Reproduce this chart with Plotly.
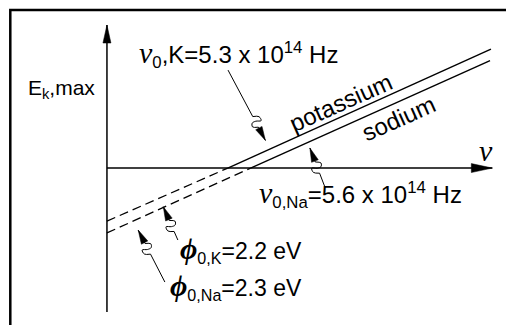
import math
import plotly.graph_objects as go

# Schematic photoelectric plot: E_k,max against frequency nu
# nu in 10^14 Hz, energy in eV (positions as drawn, the sketch is not to scale)
W, H = 506, 325
X_RANGE = [-4.69, 17.5]
Y_RANGE = [-6.65, 7.12]

nu_axis = [0, 16.9]
e_axis = [-6.1, 6.06]

k_nu = [0, 5.3, 16.84]
k_e = [-2.25, 0, 5.04]
na_nu = [0, 6.3, 16.8]
na_e = [-2.75, 0, 4.55]

# label pointers (tail near the text, tip near the line)
ptr_tail_nu = [5.31, 9.56, 3.11, 2.54]
ptr_tail_e = [4.15, -0.81, -3.05, -4.83]
ptr_tip_nu = [6.95, 8.90, 2.47, 1.37]
ptr_tip_e = [1.17, 0.85, -1.64, -2.63]

PX = W / (X_RANGE[1] - X_RANGE[0])
PY = H / (Y_RANGE[1] - Y_RANGE[0])

FONT = "Liberation Sans, Arial, sans-serif"
SERIF = "Liberation Serif, Times New Roman, serif"
INK = "black"

fig = go.Figure()


def add_line(xs, ys, width=1.4, dash=None, shape="linear"):
    fig.add_trace(go.Scatter(x=xs, y=ys, mode="lines", hoverinfo="skip",
                             line=dict(color=INK, width=width, dash=dash, shape=shape)))


def unit(x0, y0, x1, y1):
    dx, dy = (x1 - x0) * PX, (y1 - y0) * PY
    n = math.hypot(dx, dy)
    return dx / n, dy / n, n


def add_head(tx, ty, fx, fy, length, half):
    dx, dy, _ = unit(fx, fy, tx, ty)
    bx, by = tx * PX - dx * length, ty * PY - dy * length
    xs = [tx, (bx - dy * half) / PX, (bx + dy * half) / PX, tx]
    ys = [ty, (by + dx * half) / PY, (by - dx * half) / PY, ty]
    fig.add_trace(go.Scatter(x=xs, y=ys, mode="lines", fill="toself", fillcolor=INK,
                             hoverinfo="skip", line=dict(color=INK, width=0.5)))


# frame
fig.add_shape(type="rect", xref="paper", yref="paper",
              x0=10.3 / W, x1=1.02, y0=-0.02, y1=1 - 10 / H,
              line=dict(color=INK, width=2.5))

# axes
add_line([nu_axis[0], nu_axis[1]], [0, 0], width=1.5)
add_line([0, 0], [e_axis[0], e_axis[1]], width=1.5)
add_head(nu_axis[1], 0, nu_axis[0], 0, 21, 4.5)
add_head(0, e_axis[1], 0, e_axis[0], 18, 4)

# graph lines: dashed below the axis, solid above
for nus, es in ((k_nu, k_e), (na_nu, na_e)):
    add_line(nus[:2], es[:2], width=1.3, dash="9px,5px")
    add_line(nus[1:], es[1:], width=1.4)

# pointers: straight run, a small squiggle, then the arrow head
HEAD_LEN, HEAD_HALF = 14, 3.6
SQ = [(0, 0), (3, 5.5), (7.5, 5.5), (5.5, 0.5), (5.5, -3.5), (9, -5), (12, 0)]
SQ_LEN = SQ[-1][0]
for tx0, ty0, px0, py0 in zip(ptr_tail_nu, ptr_tail_e, ptr_tip_nu, ptr_tip_e):
    dx, dy, n = unit(tx0, ty0, px0, py0)
    s0 = n - HEAD_LEN - SQ_LEN - 1
    sx, sy = tx0 * PX + dx * s0, ty0 * PY + dy * s0
    qx, qy = -dy, dx
    wx = [(sx + dx * a + qx * b) / PX for a, b in SQ]
    wy = [(sy + dy * a + qy * b) / PY for a, b in SQ]
    add_line([tx0, wx[0]], [ty0, wy[0]], width=1)
    add_line(wx, wy, width=1, shape="spline")
    add_line([wx[-1], px0], [wy[-1], py0], width=1)
    add_head(px0, py0, tx0, ty0, HEAD_LEN, HEAD_HALF)


def nu_sym(size):
    return f'<span style="font-family:{SERIF};font-size:{size}px"><i>ν</i></span>'


def phi_sym(size):
    return f'<span style="font-family:{SERIF};font-size:{size}px"><b><i>ϕ</i></b></span>'


labels = [
    dict(x=-3.55, y=3.35, text="E<sub>k</sub>,max", xanchor="left", size=21),
    dict(x=5.75, y=4.83, text=nu_sym(30) + "<sub>0</sub>,K=5.3 x 10<sup>14</sup> Hz", size=24),
    dict(x=11.12, y=-1.10, text=nu_sym(30) + "<sub>0,Na</sub>=5.6 x 10<sup>14</sup> Hz", size=24),
    dict(x=8.66, y=-3.45, text=phi_sym(30) + "<sub>0,K</sub>=2.2 eV", xanchor="right", size=23),
    dict(x=8.66, y=-5.0, text=phi_sym(30) + "<sub>0,Na</sub>=2.3 eV", xanchor="right", size=23),
    dict(x=10.25, y=2.78, text="potassium", angle=-24, size=24),
    dict(x=12.78, y=2.1, text="sodium", angle=-24, size=24),
    dict(x=16.62, y=0.76, text=nu_sym(30), size=20),
]
for lb in labels:
    fig.add_annotation(x=lb["x"], y=lb["y"], xref="x", yref="y", text=lb["text"],
                       showarrow=False, xanchor=lb.get("xanchor", "center"),
                       yanchor="middle", textangle=lb.get("angle", 0),
                       font=dict(family=FONT, size=lb["size"], color=INK))

fig.update_layout(
    width=W, height=H, autosize=False,
    margin=dict(l=0, r=0, t=0, b=0, pad=0),
    paper_bgcolor="white", plot_bgcolor="white",
    showlegend=False,
    xaxis=dict(range=X_RANGE, visible=False, fixedrange=True),
    yaxis=dict(range=Y_RANGE, visible=False, fixedrange=True),
)

fig.write_html("out.html", config={"displayModeBar": False},
               post_script="document.body.style.margin='0px';")
